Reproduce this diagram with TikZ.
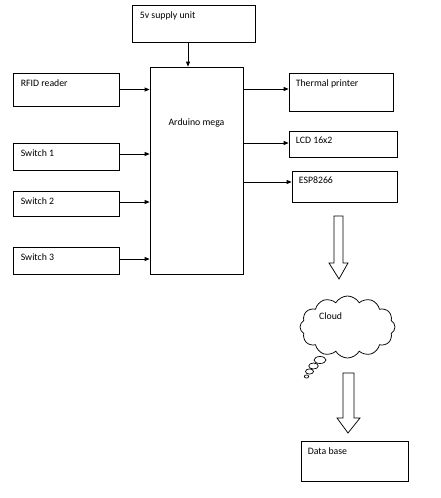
\documentclass[tikz,border=0pt]{standalone}
\usepackage{fontspec}
\setmainfont{Carlito}
\usetikzlibrary{arrows.meta,shapes.symbols}
\begin{document}
\begin{tikzpicture}[x=1pt,y=-1pt,
  box/.style={draw, line width=0.75pt, rectangle, inner sep=0pt},
  lbl/.style={anchor=west, inner sep=0pt, font=\fontsize{9.8}{11}\selectfont},
  conn/.style={line width=0.75pt, -{Triangle[length=5pt,width=4pt]}},
  blk/.style={draw, line width=0.75pt, fill=white},
  txt/.style={font=\fontsize{9.8}{11}\selectfont, inner sep=0pt}
]
\useasboundingbox[fill=white] (0,0) rectangle (440,498);

% boxes
\node[box, minimum width=123pt, minimum height=37pt] (supply) at (193.5,23.5) {};
\node[box, minimum width=93pt, minimum height=207pt] (ard) at (196.5,170.5) {};
\node[box, minimum width=106pt, minimum height=33pt] (rfid) at (66,89.5) {};
\node[box, minimum width=106pt, minimum height=27pt] (sw1) at (66,156.5) {};
\node[box, minimum width=106pt, minimum height=25pt] (sw2) at (66,203.5) {};
\node[box, minimum width=106pt, minimum height=27pt] (sw3) at (66,260.5) {};
\node[box, minimum width=104pt, minimum height=38pt] (thermal) at (341,92) {};
\node[box, minimum width=108pt, minimum height=26pt] (lcd) at (343,144) {};
\node[box, minimum width=105pt, minimum height=31pt] (esp) at (344.5,186.5) {};
\node[box, minimum width=107pt, minimum height=40pt] (db) at (354.5,461) {};

% labels
\node[lbl] (tsupply) at ([xshift=8pt,yshift=-11pt]supply.north west) {5v supply unit};
\node[txt] (tard) at ([yshift=-56pt]ard.north) {Arduino mega};
\node[lbl] (trfid) at ([xshift=8pt,yshift=-11pt]rfid.north west) {RFID reader};
\node[lbl] (tsw1) at ([xshift=8pt,yshift=-11pt]sw1.north west) {Switch 1};
\node[lbl] (tsw2) at ([xshift=8pt,yshift=-11pt]sw2.north west) {Switch 2};
\node[lbl] (tsw3) at ([xshift=8pt,yshift=-11pt]sw3.north west) {Switch 3};
\node[lbl] (tthermal) at ([xshift=7pt,yshift=-11pt]thermal.north west) {Thermal printer};
\node[lbl] (tlcd) at ([xshift=7pt,yshift=-10pt]lcd.north west) {LCD 16x2};
\node[lbl] (tesp) at ([xshift=7pt,yshift=-10pt]esp.north west) {ESP8266};
\node[lbl] (tdb) at ([xshift=7pt,yshift=-11pt]db.north west) {Data base};

% connectors
\draw[conn] ([xshift=-5.5pt]supply.south) -- ([xshift=-5.5pt]supply.south |- ard.north);
\draw[conn] (rfid.east) -- (rfid.east -| ard.west);
\draw[conn] ([yshift=2.5pt]sw1.east) -- ([yshift=2.5pt]sw1.east -| ard.west);
\draw[conn] ([yshift=1.5pt]sw2.east) -- ([yshift=1.5pt]sw2.east -| ard.west);
\draw[conn] ([yshift=1.5pt]sw3.east) -- ([yshift=1.5pt]sw3.east -| ard.west);
\draw[conn] ([yshift=3pt]thermal.west -| ard.east) -- ([yshift=3pt]thermal.west);
\draw[conn] ([yshift=1pt]lcd.west -| ard.east) -- ([yshift=1pt]lcd.west);
\draw[conn] ([yshift=4.5pt]esp.west -| ard.east) -- ([yshift=4.5pt]esp.west);

% cloud
\node[cloud, draw, line width=0.75pt, cloud puffs=12, cloud puff arc=120,
      minimum width=95pt, minimum height=62pt, inner sep=0pt] (cloud) at (347.5,327) {};
\node[txt, anchor=west] (tcloud) at (319,316) {Cloud};
\draw[line width=0.7pt] (320,360) ellipse (6pt and 3.5pt);
\draw[line width=0.7pt] (313.5,366) ellipse (4.8pt and 3pt);
\draw[line width=0.7pt] (309.5,371.5) ellipse (4pt and 2.6pt);
\draw[line width=0.7pt] (306.5,376.5) ellipse (2.2pt and 1.6pt);

% block arrows
\draw[blk] (334,216) -- (343,216) -- (343,263) -- (348,263) -- (339,279) -- (329,263) -- (334,263) -- cycle;
\draw[blk] (343,373) -- (354,373) -- (354,418) -- (360,418) -- (348,433) -- (337,418) -- (343,418) -- cycle;
\end{tikzpicture}
\end{document}
